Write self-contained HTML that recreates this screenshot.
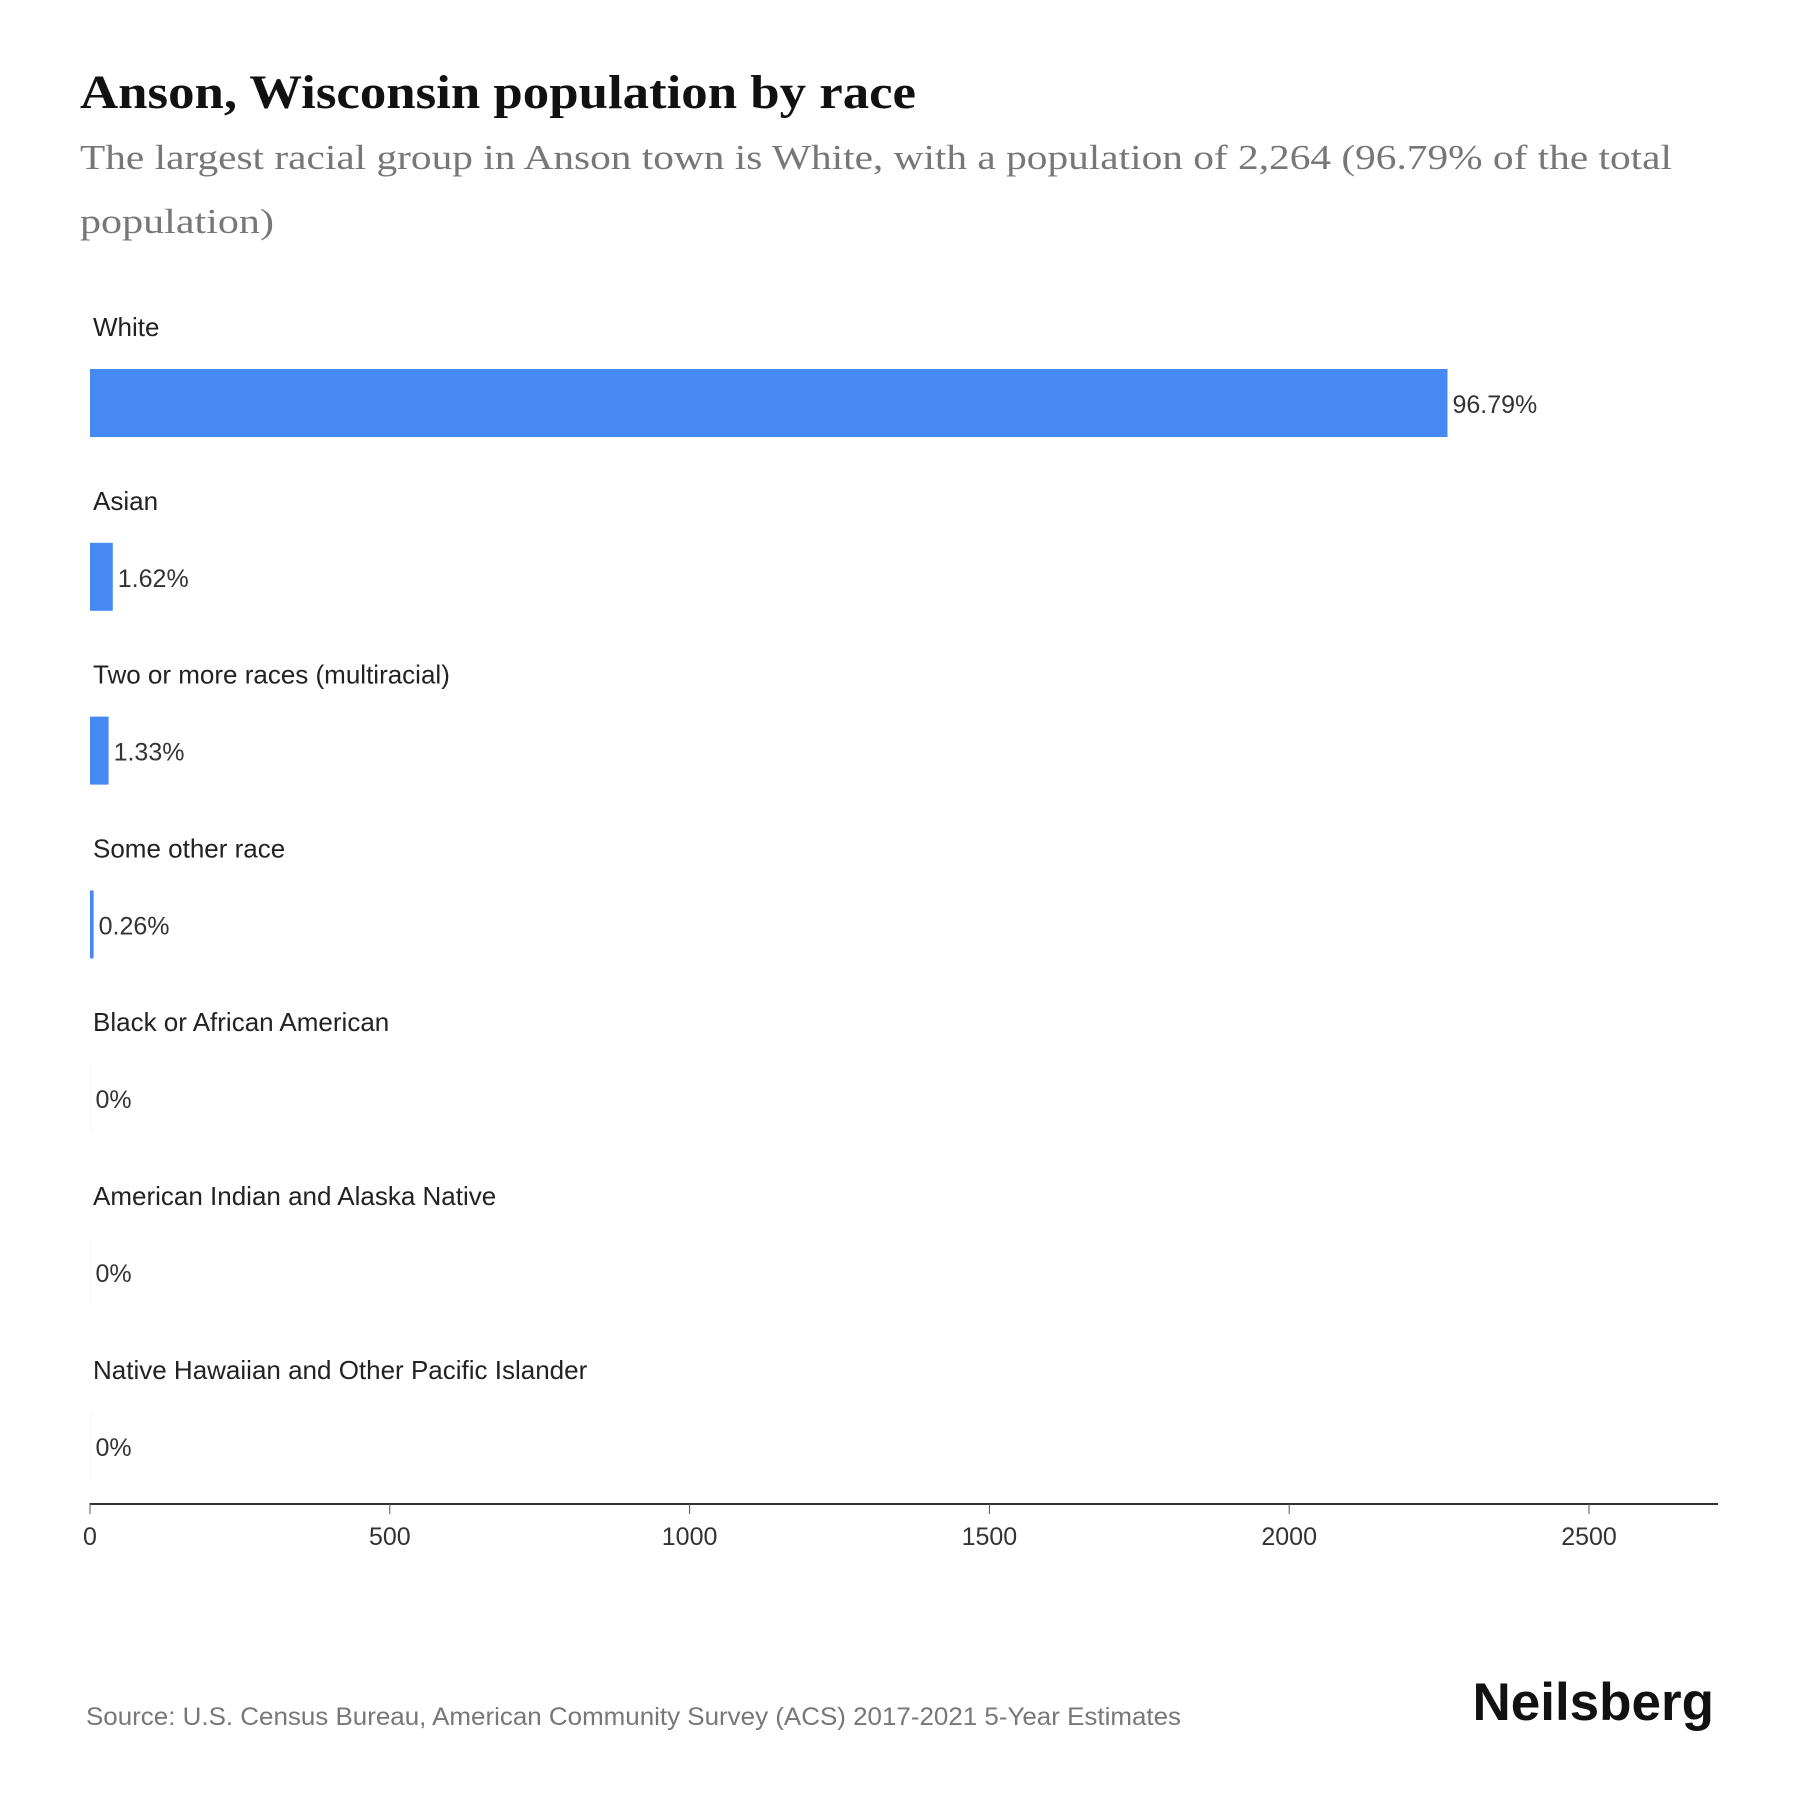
<!DOCTYPE html>
<html><head><meta charset="utf-8"><style>
body{margin:0;background:#fff;width:1800px;height:1800px;overflow:hidden}
svg text{font-family:"Liberation Sans",sans-serif}
</style></head><body>
<svg width="1800" height="1800" id="chart">
<text x="80" y="108" font-weight="bold" font-size="48" fill="#111" textLength="836" lengthAdjust="spacingAndGlyphs" style="font-family:'Liberation Serif',serif">Anson, Wisconsin population by race</text>
<text x="80" y="169" font-size="35" fill="#777" textLength="1592" lengthAdjust="spacingAndGlyphs" style="font-family:'Liberation Serif',serif">The largest racial group in Anson town is White, with a population of 2,264 (96.79% of the total</text>
<text x="80" y="233" font-size="35" fill="#777" textLength="194" lengthAdjust="spacingAndGlyphs" style="font-family:'Liberation Serif',serif">population)</text>
<g id="bars"></g>
<line x1="89.5" y1="1504" x2="1718" y2="1504" stroke="#333" stroke-width="2"/>
<g id="ticks"></g>
<text x="86" y="1725" font-size="25" fill="#777" textLength="1095" lengthAdjust="spacingAndGlyphs">Source: U.S. Census Bureau, American Community Survey (ACS) 2017-2021 5-Year Estimates</text>
<text x="1714" y="1720" text-anchor="end" font-size="53" font-weight="bold" fill="#111">Neilsberg</text>
</svg>
<script>
const categories=["White","Asian","Two or more races (multiracial)","Some other race","Black or African American","American Indian and Alaska Native","Native Hawaiian and Other Pacific Islander"];
const values=[2264,38,31,6,0,0,0];
const pctLabels=["96.79%","1.62%","1.33%","0.26%","0%","0%","0%"];
const tickValues=[0,500,1000,1500,2000,2500];
const NS="http://www.w3.org/2000/svg";
const x0=90, scale=(1589-90)/2500;
function xPos(v){return x0+v*scale;}
function rowY(i){return 327+i*173.8;}
const gb=document.getElementById('bars');
categories.forEach((c,i)=>{
  const y=rowY(i);
  const t=document.createElementNS(NS,'text');
  
  
  t.setAttribute('x',93);t.setAttribute('y',y+9);t.setAttribute('font-size','26');t.setAttribute('fill','#222');
  t.textContent=c;gb.appendChild(t);
  const r=document.createElementNS(NS,'rect');
  
  
  const w=Math.max(xPos(values[i])-x0,values[i]>0?2:0.5);
  r.setAttribute('x',x0);r.setAttribute('y',y+42);r.setAttribute('width',w);r.setAttribute('height',68);
  r.setAttribute('fill',values[i]>0?'#4689f2':'#eee');
  gb.appendChild(r);
  const v=document.createElementNS(NS,'text');
  
  
  v.setAttribute('x',x0+w+5);v.setAttribute('y',y+86);v.setAttribute('font-size','25');v.setAttribute('fill','#333');
  v.textContent=pctLabels[i];gb.appendChild(v);
});
const gt=document.getElementById('ticks');
tickValues.forEach(tv=>{
  const x=xPos(tv);
  const l=document.createElementNS(NS,'line');
  
  
  l.setAttribute('x1',x);l.setAttribute('x2',x);l.setAttribute('y1',1504);l.setAttribute('y2',1514);l.setAttribute('stroke','#555');
  gt.appendChild(l);
  const t=document.createElementNS(NS,'text');
  
  
  t.setAttribute('x',x);t.setAttribute('y',1545);t.setAttribute('text-anchor','middle');t.setAttribute('font-size','25');t.setAttribute('fill','#333');
  t.textContent=tv;gt.appendChild(t);
});
</script>
</body></html>
